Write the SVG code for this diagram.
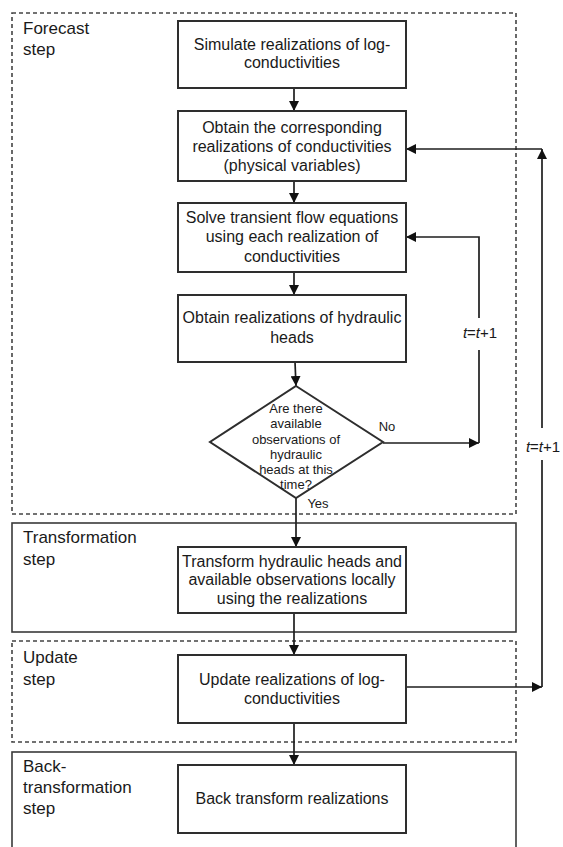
<svg xmlns="http://www.w3.org/2000/svg" width="563" height="847" viewBox="0 0 563 847">
<style>
.bg{fill:#fff}
.box{fill:#fff;stroke:#2e2e2e;stroke-width:2}
.sec{fill:none;stroke:#3a3a3a;stroke-width:1.6}
.dash{fill:none;stroke:#444;stroke-width:1.6;stroke-dasharray:4 3}
.t{font-family:"Liberation Sans",Arial,sans-serif;font-size:16px;fill:#1a1a1a;text-anchor:middle}
.d{font-family:"Liberation Sans",Arial,sans-serif;font-size:13px;fill:#1a1a1a;text-anchor:middle}
.lab{font-family:"Liberation Sans",Arial,sans-serif;font-size:17px;fill:#1a1a1a}
.c{fill:none;stroke:#1e1e1e;stroke-width:1.7}
</style>
<defs>
<marker id="ah" viewBox="0 0 10 10" refX="10" refY="5" markerWidth="10" markerHeight="10" markerUnits="userSpaceOnUse" orient="auto">
<path d="M0,0 L10,5 L0,10 z" fill="#111"/>
</marker>
</defs>
<rect class="bg" x="0" y="0" width="563" height="847"/>

<g id="sections">
<rect id="forecast-section" class="dash" x="12" y="13" width="504" height="501"/>
<rect id="transformation-section" class="sec" x="12" y="523" width="504" height="109"/>
<rect id="update-section" class="dash" x="12" y="641" width="504" height="101"/>
<rect id="back-section" class="sec" x="12" y="752" width="504" height="110"/>
<text class="lab" x="23" y="34">Forecast</text>
<text class="lab" x="23" y="55">step</text>
<text class="lab" x="23" y="543">Transformation</text>
<text class="lab" x="23" y="565">step</text>
<text class="lab" x="23" y="663">Update</text>
<text class="lab" x="23" y="685">step</text>
<text class="lab" x="23" y="772">Back-</text>
<text class="lab" x="23" y="793">transformation</text>
<text class="lab" x="23" y="814">step</text>
</g>

<g id="connectors">
<line class="c" x1="294" y1="88" x2="294" y2="111" marker-end="url(#ah)"/>
<line class="c" x1="294" y1="181" x2="294" y2="203" marker-end="url(#ah)"/>
<line class="c" x1="294" y1="272" x2="294" y2="295" marker-end="url(#ah)"/>
<line class="c" x1="295" y1="362" x2="296" y2="386" marker-end="url(#ah)"/>
<line class="c" x1="296" y1="498" x2="296" y2="547" marker-end="url(#ah)"/>
<line class="c" x1="294" y1="613" x2="294" y2="655" marker-end="url(#ah)"/>
<line class="c" x1="294" y1="723" x2="294" y2="765" marker-end="url(#ah)"/>
<line class="c" x1="383" y1="443" x2="479" y2="443" marker-end="url(#ah)"/>
<polyline class="c" points="479,443 479,350"/>
<polyline class="c" points="479,318 479,237 406,237" marker-end="url(#ah)"/>
<line class="c" x1="406" y1="687" x2="542" y2="687" marker-end="url(#ah)"/>
<line class="c" x1="542" y1="687" x2="542" y2="460"/>
<line class="c" x1="542" y1="428" x2="542" y2="149" marker-end="url(#ah)"/>
<line class="c" x1="542" y1="149" x2="406" y2="149" marker-end="url(#ah)"/>
<text class="d" x="387" y="431">No</text>
<text class="d" x="318" y="508">Yes</text>
<text class="t" x="480" y="338" style="font-size:15px"><tspan font-style="italic">t</tspan>=<tspan font-style="italic">t</tspan>+1</text>
<text class="t" x="543" y="452" style="font-size:15px"><tspan font-style="italic">t</tspan>=<tspan font-style="italic">t</tspan>+1</text>
</g>

<g id="n1">
<rect class="box" x="178" y="21" width="228" height="67"/>
<text class="t" x="292" y="50">Simulate realizations of log-</text>
<text class="t" x="292" y="68">conductivities</text>
</g>
<g id="n2">
<rect class="box" x="178" y="111" width="228" height="70"/>
<text class="t" x="292" y="133">Obtain the corresponding</text>
<text class="t" x="292" y="152">realizations of conductivities</text>
<text class="t" x="292" y="171">(physical variables)</text>
</g>
<g id="n3">
<rect class="box" x="178" y="203" width="228" height="69"/>
<text class="t" x="292" y="223">Solve transient flow equations</text>
<text class="t" x="292" y="242">using each realization of</text>
<text class="t" x="292" y="262">conductivities</text>
</g>
<g id="n4">
<rect class="box" x="178" y="295" width="228" height="67"/>
<text class="t" x="292" y="323">Obtain realizations of hydraulic</text>
<text class="t" x="292" y="343">heads</text>
</g>
<g id="n-decision">
<polygon class="box" points="296,386 383,442 296,498 210,442"/>
<text class="d" x="296" y="413">Are there</text>
<text class="d" x="296" y="428">available</text>
<text class="d" x="296" y="444">observations of</text>
<text class="d" x="296" y="459">hydraulic</text>
<text class="d" x="296" y="474">heads at this</text>
<text class="d" x="296" y="489">time?</text>
</g>
<g id="n5">
<rect class="box" x="178" y="547" width="228" height="66"/>
<text class="t" x="292" y="567">Transform hydraulic heads and</text>
<text class="t" x="292" y="585">available observations locally</text>
<text class="t" x="292" y="604">using the realizations</text>
</g>
<g id="n6">
<rect class="box" x="178" y="655" width="228" height="68"/>
<text class="t" x="292" y="685">Update realizations of log-</text>
<text class="t" x="292" y="704">conductivities</text>
</g>
<g id="n7">
<rect class="box" x="178" y="765" width="228" height="68"/>
<text class="t" x="292" y="804">Back transform realizations</text>
</g>
</svg>
